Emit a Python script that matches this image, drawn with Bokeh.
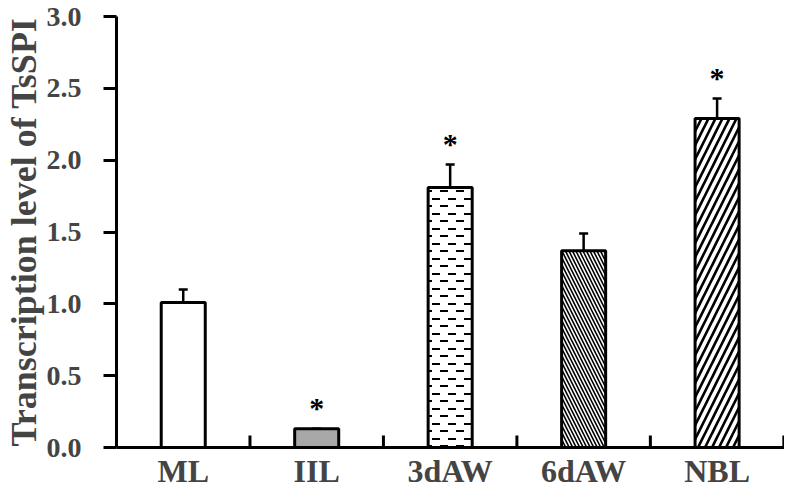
import base64
from bokeh.plotting import figure
from bokeh.models import (ColumnDataSource, Range1d, FixedTicker, LabelSet,
                          Whisker, TeeHead, ImageURLTexture, LinearAxis)
from bokeh.embed import file_html
from bokeh.resources import INLINE

categories = ["ML", "IIL", "3dAW", "6dAW", "NBL"]
values = [1.01, 0.13, 1.81, 1.37, 2.29]
errors = [0.09, 0.0, 0.16, 0.12, 0.14]
signif = ["", "*", "*", "", "*"]
y_ticks = [0.0, 0.5, 1.0, 1.5, 2.0, 2.5, 3.0]

fills = ["white", "#a8a8a8", "white", "white", "white"]
hatches = [" ", " ", "dashes", "\\", "/"]
hscales = [8, 8, 15, 7, 14]
hweights = [1, 1, 2, 1.6, 2.6]

xpos = [i + 0.5 for i in range(len(categories))]
bounds = [i + 1 for i in range(len(categories))]
tops = [v + e for v, e in zip(values, errors)]

# layout (pixels)
H, TOP, AXIS_PANEL = 491, 16, 45
Y_MAX = 3.0
TICK_LEN = Y_MAX * 12 / (H - TOP - AXIS_PANEL)   # ~12 px inward ticks

src = ColumnDataSource(dict(x=xpos, cat=categories, v=values, e=errors,
                            top=tops, sig=signif, fill=fills, hatch=hatches,
                            hs=hscales, hw=hweights))

FONT = "Liberation Serif"

# staggered short dashes texture
tile = ("<svg xmlns='http://www.w3.org/2000/svg' width='16' height='15'>"
        "<rect x='0' y='3' width='8' height='2' fill='black'/>"
        "<rect x='8' y='10' width='8' height='2' fill='black'/></svg>")
dash_tex = ImageURLTexture(
    url="data:image/svg+xml;base64," + base64.b64encode(tile.encode()).decode())

p = figure(width=784, height=H, output_backend="svg", toolbar_location=None,
           x_range=Range1d(0, 5.005), y_range=Range1d(0, Y_MAX),
           min_border_left=108, min_border_right=0, min_border_top=TOP,
           min_border_bottom=0, x_axis_type=None)
p.outline_line_color = None
p.grid.visible = False
p.background_fill_color = "white"

p.vbar(x="x", top="v", width=0.33, source=src, fill_color="fill",
       line_color="black", line_width=3, hatch_pattern="hatch",
       hatch_scale="hs", hatch_weight="hw", hatch_color="black",
       hatch_extra={"dashes": dash_tex})

w = Whisker(source=src, base="x", lower="v", upper="top",
            line_color="black", line_width=2.5,
            upper_head=TeeHead(size=9, line_width=2.5, line_color="black"),
            lower_head=None)
p.add_layout(w)

stars = LabelSet(source=src, x="x", y="top", text="sig", text_align="center",
                 text_baseline="middle", y_offset=21, text_font=FONT,
                 text_font_style="bold", text_font_size="30px",
                 text_color="black")
p.add_layout(stars)

# inward ticks between categories
p.segment(x0=bounds, y0=[0] * len(bounds), x1=bounds,
          y1=[TICK_LEN] * len(bounds), line_color="black", line_width=3)

# labelled x axis (labels at category centres, no ticks)
xa = LinearAxis(ticker=FixedTicker(ticks=xpos),
                major_label_overrides={x: c for x, c in zip(xpos, categories)})
xa.major_tick_in = 0
xa.major_tick_out = 0
xa.minor_tick_line_color = None
xa.axis_line_width = 3
xa.major_label_text_font = FONT
xa.major_label_text_font_style = "bold"
xa.major_label_text_font_size = "32px"
xa.major_label_standoff = 5
p.add_layout(xa, "below")

ya = p.yaxis[0]
ya.ticker = FixedTicker(ticks=y_ticks)
ya.major_label_overrides = {t: f"{t:.1f}" for t in y_ticks}
ya.major_tick_in = 0
ya.major_tick_out = 13
ya.minor_tick_line_color = None
ya.major_tick_line_width = 3
ya.axis_line_width = 3
ya.major_label_text_font = FONT
ya.major_label_text_font_style = "bold"
ya.major_label_text_font_size = "28px"
ya.major_label_standoff = 22
ya.axis_label = "Transcription level of TsSPI"
ya.axis_label_text_font = FONT
ya.axis_label_text_font_style = "bold"
ya.axis_label_text_font_size = "36px"
ya.axis_label_standoff = 0

open("out.html", "w").write(file_html(p, INLINE))
